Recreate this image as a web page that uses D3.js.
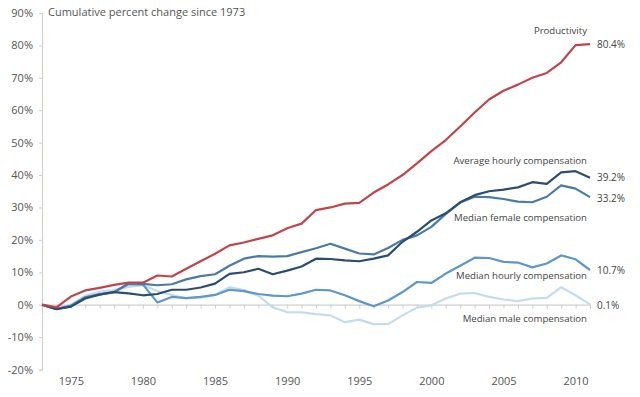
<!DOCTYPE html>
<html>
<head>
<meta charset="utf-8">
<script src="https://cdn.jsdelivr.net/npm/d3@7"></script>
<style>
  body { margin: 0; background: #fff; }
  text { font-family: "Open Sans", "Noto Sans", sans-serif; }
</style>
</head>
<body>
<div id="chart"></div>
<script>
const years = d3.range(1973, 2012);
const yTicks = [-20, -10, 0, 10, 20, 30, 40, 50, 60, 70, 80, 90];
const xTicks = [1975, 1980, 1985, 1990, 1995, 2000, 2005, 2010];

const productivity = [0, -0.8, 2.5, 4.4, 5.2, 6.1, 6.8, 6.8, 9.0, 8.7, 11.1, 13.4, 15.7, 18.3, 19.2, 20.3, 21.4, 23.6, 25.0, 29.2, 30.0, 31.2, 31.4, 34.6, 37.1, 40.0, 43.6, 47.4, 50.8, 55.0, 59.3, 63.3, 66.0, 67.9, 70.0, 71.5, 74.8, 80.1, 80.4];
const avgHourly = [0, -1.4, -0.6, 1.9, 3.1, 3.9, 3.5, 2.9, 3.3, 4.6, 4.6, 5.3, 6.5, 9.5, 10.0, 11.1, 9.4, 10.5, 11.8, 14.2, 14.1, 13.7, 13.4, 14.2, 15.2, 19.4, 22.5, 26.0, 28.2, 31.6, 33.8, 35.0, 35.5, 36.2, 37.8, 37.3, 40.8, 41.2, 39.2];
const medFemale = [0, -1.3, -0.5, 2.3, 3.2, 3.8, 6.6, 6.4, 6.0, 6.3, 7.8, 8.8, 9.4, 12.0, 14.2, 15.0, 14.8, 15.0, 16.2, 17.4, 18.8, 17.3, 15.8, 15.5, 17.5, 20.0, 21.4, 24.0, 28.0, 31.5, 33.3, 33.2, 32.6, 31.8, 31.6, 33.3, 36.8, 35.8, 33.2];
const medHourly = [0, -1.3, -0.3, 2.2, 3.3, 4.0, 6.3, 6.2, 0.7, 2.4, 2.0, 2.4, 3.0, 4.6, 4.2, 3.3, 2.8, 2.6, 3.4, 4.6, 4.4, 2.9, 1.1, -0.5, 1.3, 3.9, 7.0, 6.7, 9.6, 12.0, 14.5, 14.4, 13.2, 13.0, 11.5, 12.7, 15.2, 14.0, 10.7];
const medMale = [0, -1.3, 0, 2.8, 4.0, 4.5, 5.5, 6.0, 4.2, 3.0, 2.0, 2.2, 3.0, 5.4, 4.5, 2.8, -0.8, -2.3, -2.4, -2.9, -3.3, -5.4, -4.6, -6.0, -6.0, -3.3, -0.9, -0.2, 1.9, 3.4, 3.6, 2.4, 1.6, 1.1, 1.9, 2.1, 5.4, 2.9, 0.1];

const series = [
  {name: "Median male compensation", values: medMale, color: "#c3dcf0", end: "0.1%", labelY: 319, endY: 305},
  {name: "Median hourly compensation", values: medHourly, color: "#5d98c9", end: "10.7%", labelY: 276, endY: 270},
  {name: "Median female compensation", values: medFemale, color: "#4a7ba7", end: "33.2%", labelY: 218, endY: 198},
  {name: "Average hourly compensation", values: avgHourly, color: "#2c4d72", end: "39.2%", labelY: 161, endY: 177},
  {name: "Productivity", values: productivity, color: "#c2444a", end: "80.4%", labelY: 31, endY: 44}
];

const width = 640, height = 397;
const svg = d3.select("#chart").append("svg")
  .attr("width", width)
  .attr("height", height);

const x = d3.scaleLinear().domain([1973, 2011]).range([42, 590]);
const y = d3.scaleLinear().domain([-20, 90]).range([369.5, 13]);

// y axis
const yAxis = svg.append("g")
  .attr("transform", "translate(" + x(1973) + ",0)")
  .call(d3.axisLeft(y).tickValues(yTicks).tickSize(3).tickPadding(6).tickFormat(d => d + "%"));
yAxis.select(".domain").attr("stroke", "#d0d0d0").attr("stroke-width", 1.2);
yAxis.selectAll(".tick line").attr("stroke", "#d0d0d0");
yAxis.selectAll(".tick text").attr("fill", "#555").style("font-size", "11px");

// zero line with yearly ticks
const zeroAxis = svg.append("g")
  .attr("transform", "translate(0," + y(0) + ")")
  .call(d3.axisBottom(x).tickValues(years).tickSize(4).tickFormat(""));
zeroAxis.select(".domain").attr("stroke", "#cfcfcf").attr("stroke-width", 1.2);
zeroAxis.selectAll(".tick line").attr("stroke", "#cfcfcf");

// x labels at bottom
const xAxis = svg.append("g")
  .attr("transform", "translate(0," + y(-20) + ")")
  .call(d3.axisBottom(x).tickValues(xTicks).tickSize(0).tickPadding(8).tickFormat(d3.format("d")));
xAxis.select(".domain").remove();
xAxis.selectAll(".tick text").attr("fill", "#555").style("font-size", "11px");

// title
svg.append("text")
  .attr("x", 48)
  .attr("y", 16)
  .attr("fill", "#555")
  .style("font-size", "11px")
  .text("Cumulative percent change since 1973");

const line = d3.line()
  .x((d, i) => x(years[i]))
  .y(d => y(d));

svg.selectAll(".series")
  .data(series)
  .enter().append("path")
  .attr("class", "series")
  .attr("fill", "none")
  .attr("stroke", d => d.color)
  .attr("stroke-width", 2.2)
  .attr("stroke-linejoin", "round")
  .attr("d", d => line(d.values));

// series names
svg.selectAll(".name")
  .data(series)
  .enter().append("text")
  .attr("class", "name")
  .attr("x", 587)
  .attr("y", d => d.labelY)
  .attr("dy", "0.35em")
  .attr("text-anchor", "end")
  .attr("fill", "#444")
  .style("font-size", "9.6px")
  .text(d => d.name);

// end values
svg.selectAll(".endval")
  .data(series)
  .enter().append("text")
  .attr("class", "endval")
  .attr("x", 597)
  .attr("y", d => d.endY)
  .attr("dy", "0.35em")
  .attr("fill", "#444")
  .style("font-size", "10px")
  .text(d => d.end);
</script>
</body>
</html>
